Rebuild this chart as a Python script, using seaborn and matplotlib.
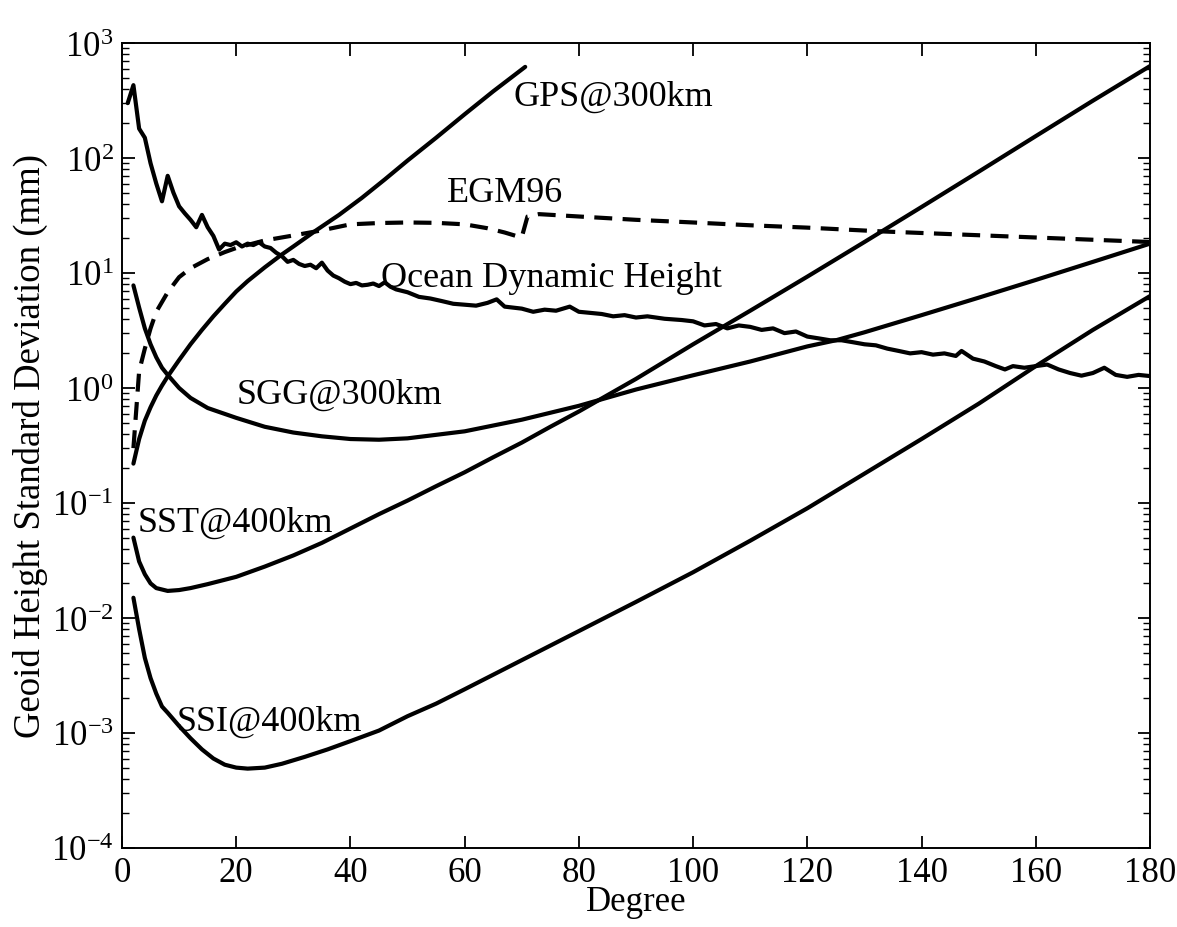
import numpy as np
import pandas as pd
import matplotlib
matplotlib.use("Agg")
import matplotlib.pyplot as plt
from matplotlib.ticker import FixedLocator, NullFormatter, NullLocator, LogFormatterMathtext
import seaborn as sns

# ---------------- data ----------------
gps_deg = [2, 3, 4, 5, 6, 7, 8, 10, 12, 14, 16, 18, 20, 22, 25, 28, 30, 34, 38, 42, 46, 50, 55, 60, 65, 70.6]
gps_val = [0.22, 0.36, 0.52, 0.68, 0.86, 1.05, 1.26, 1.75, 2.4, 3.2, 4.2, 5.4, 6.9, 8.5, 11.2, 14.5, 17, 23.5, 32, 45, 65, 95, 150, 240, 380, 620]

egm_deg = [2, 3, 4, 5, 6, 8, 10, 12, 15, 18, 20, 25, 30, 35, 40, 45, 50, 55, 60, 64, 67, 69, 70, 71, 73, 80, 90, 100, 110, 120, 133, 150, 165, 180]
egm_val = [0.3, 1.4, 2.2, 3.3, 4.6, 6.8, 9.2, 11, 13.2, 15.2, 16.5, 19.2, 21.2, 23.5, 26.5, 27.2, 27.5, 27.3, 26.5, 24.5, 22.5, 21, 20.5, 31, 32.5, 31, 29, 27.5, 26, 24.8, 23, 21.3, 19.9, 18.6]

odh_deg = [1, 2, 3, 4, 5, 6, 7, 8, 9, 10, 11, 12, 13, 14, 15, 16, 17, 18, 19, 20, 21, 22, 23, 24, 25,
           26, 27, 28, 29, 30, 31, 32, 33, 34, 35, 36, 37, 38, 39, 40, 41, 42, 43, 44, 45, 46, 47, 48,
           50, 52, 54, 56, 58, 60, 62, 64, 65.6, 67, 70, 72, 74, 76, 78.4, 80, 82, 84, 86, 88, 90, 92,
           95, 98, 100, 102, 104, 106, 108, 110, 112, 114, 116, 118, 120, 122, 124, 126, 128, 130, 132,
           134, 136, 138, 140, 142, 144, 146, 147, 149, 151, 153, 154.6, 156, 158, 160, 162, 164, 166,
           168, 170, 172, 174, 176, 178, 180]
odh_val = [300, 430, 180, 150, 90, 60, 42, 70, 50, 38, 33, 29, 25, 32, 25, 21, 16, 18, 17.5, 18.5, 17, 18, 17.5, 18.5, 17,
           16.5, 15, 14, 12.5, 13, 12, 11.5, 11.8, 11, 12.3, 10.5, 9.5, 9, 8.4, 8, 8.2, 7.8, 7.9, 8.1, 7.7, 8.3, 7.6, 7.2,
           6.8, 6.2, 6.0, 5.7, 5.4, 5.3, 5.2, 5.5, 5.9, 5.1, 4.9, 4.6, 4.8, 4.7, 5.1, 4.6, 4.5, 4.4, 4.2, 4.3, 4.1, 4.2,
           4.0, 3.9, 3.8, 3.5, 3.6, 3.3, 3.5, 3.4, 3.2, 3.3, 3.0, 3.1, 2.8, 2.7, 2.6, 2.6, 2.5, 2.4, 2.35,
           2.2, 2.1, 2.0, 2.05, 1.95, 2.0, 1.9, 2.1, 1.8, 1.7, 1.55, 1.45, 1.55, 1.5, 1.55, 1.6, 1.45, 1.35,
           1.28, 1.35, 1.5, 1.3, 1.25, 1.3, 1.27]

sgg_deg = [2, 3, 4, 5, 6, 7, 8, 10, 12, 15, 20, 25, 30, 35, 40, 45, 50, 60, 70, 80, 90, 100, 110, 120, 125, 130, 140, 150, 160, 170, 180]
sgg_val = [7.8, 5.0, 3.3, 2.4, 1.85, 1.5, 1.3, 1.0, 0.82, 0.67, 0.55, 0.46, 0.41, 0.38, 0.36, 0.355, 0.365, 0.42, 0.53, 0.70, 0.97, 1.29, 1.7, 2.3, 2.6, 3.05, 4.3, 6.1, 8.7, 12.5, 18]

sst_deg = [2, 3, 4, 5, 6, 8, 10, 12, 15, 20, 25, 30, 35, 40, 45, 50, 55, 60, 65, 70, 75, 80, 90, 100, 110, 120, 130, 140, 150, 160, 170, 180]
sst_val = [0.05, 0.031, 0.024, 0.02, 0.0182, 0.0172, 0.0175, 0.0182, 0.0197, 0.0228, 0.028, 0.035, 0.045, 0.06, 0.08, 0.105, 0.14, 0.185, 0.25, 0.335, 0.46, 0.625, 1.2, 2.4, 4.7, 9.3, 18.6, 37.5, 76, 155, 315, 630]

ssi_deg = [2, 3, 4, 5, 6, 7, 8, 10, 12, 14, 16, 18, 20, 22, 25, 28, 32, 36, 40, 45, 50, 55, 60, 70, 80, 90, 100, 110, 120, 130, 140, 150, 160, 170, 180]
ssi_val = [0.015, 0.008, 0.0045, 0.003, 0.0022, 0.0017, 0.0015, 0.00115, 0.0009, 0.00072, 0.0006, 0.00053, 0.0005, 0.00049, 0.0005, 0.00054, 0.00062, 0.00072, 0.00085, 0.00105, 0.0014, 0.0018, 0.0024, 0.0043, 0.0077, 0.0138, 0.025, 0.047, 0.09, 0.18, 0.36, 0.73, 1.55, 3.2, 6.3]

labels = ["GPS@300km", "EGM96", "Ocean Dynamic Height", "SGG@300km", "SST@400km", "SSI@400km"]
label_deg = [68.6, 56.9, 45.3, 20.1, 2.8, 9.5]
label_val = [347, 50, 9.2, 0.89, 0.068, 0.00126]

x_ticks = [0, 20, 40, 60, 80, 100, 120, 140, 160, 180]
y_ticks = [1e-4, 1e-3, 1e-2, 1e-1, 1e0, 1e1, 1e2, 1e3]

# ---------------- style ----------------
sns.set_style("ticks")
plt.rcParams["font.family"] = ["Liberation Serif", "DejaVu Serif"]
plt.rcParams["mathtext.fontset"] = "custom"
plt.rcParams["mathtext.rm"] = "Liberation Serif"
plt.rcParams["mathtext.it"] = "Liberation Serif:italic"
plt.rcParams["mathtext.bf"] = "Liberation Serif:bold"
plt.rcParams["text.color"] = "black"
plt.rcParams["axes.labelcolor"] = "black"
plt.rcParams["xtick.color"] = "black"
plt.rcParams["ytick.color"] = "black"

fig = plt.figure(figsize=(11.77, 9.28), dpi=100)
ax = fig.add_axes([122 / 1177, (928 - 849) / 928, (1150 - 122) / 1177, (849 - 44) / 928])

LW = 3.0
for d, v in [(gps_deg, gps_val), (odh_deg, odh_val), (sgg_deg, sgg_val),
             (sst_deg, sst_val), (ssi_deg, ssi_val)]:
    df = pd.DataFrame({"degree": d, "value": v})
    sns.lineplot(data=df, x="degree", y="value", ax=ax, color="black", linewidth=LW,
                 sort=False, estimator=None, legend=False)

df_egm = pd.DataFrame({"degree": egm_deg, "value": egm_val})
sns.lineplot(data=df_egm, x="degree", y="value", ax=ax, color="black", linewidth=LW,
             sort=False, estimator=None, legend=False)
ax.lines[-1].set_dashes([4.3, 2.5])
ax.lines[-1].set_dash_capstyle("butt")

ax.set_yscale("log")
ax.set_xlim(0, 180)
ax.set_ylim(1e-4, 1e3)

ax.xaxis.set_major_locator(FixedLocator(x_ticks))
ax.xaxis.set_minor_locator(NullLocator())
ax.yaxis.set_major_locator(FixedLocator(y_ticks))
ax.yaxis.set_major_formatter(LogFormatterMathtext())
minor_y = [m * t for t in y_ticks[:-1] for m in range(2, 10)]
ax.yaxis.set_minor_locator(FixedLocator(minor_y))
ax.yaxis.set_minor_formatter(NullFormatter())

ax.tick_params(axis="both", which="major", direction="in", length=9, width=1.3,
               top=True, right=True, labelsize=25, colors="black")
ax.tick_params(axis="x", which="major", pad=6)
ax.tick_params(axis="y", which="major", pad=6)
ax.tick_params(axis="y", which="minor", direction="in", length=5, width=1.0,
               left=True, right=True)
for s in ax.spines.values():
    s.set_linewidth(1.4)
    s.set_color("black")

ax.set_xlabel("Degree", fontsize=25, labelpad=-3, color="black")
ax.set_ylabel("Geoid Height Standard Deviation (mm)", fontsize=26.5, labelpad=2, color="black")

for t, d, v in zip(labels, label_deg, label_val):
    ax.text(d, v, t, fontsize=26, ha="left", va="center", color="black")

fig.savefig("out.png", dpi=100, facecolor="white")
